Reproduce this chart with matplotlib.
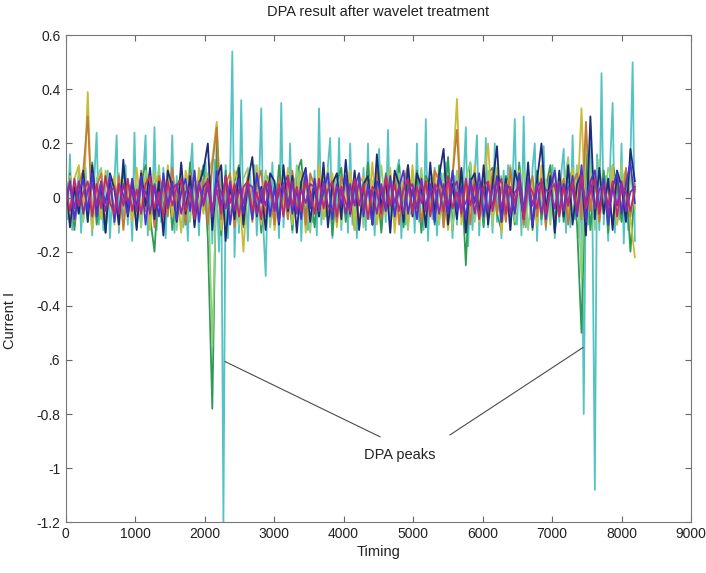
import numpy as np
import matplotlib
matplotlib.use("Agg")
import matplotlib.pyplot as plt

# ─────────────────────────────────────────────
# DATA: DPA traces after wavelet treatment
# ─────────────────────────────────────────────
TRACE_END = 8192
STEP_FINE = 32      # sampling of the cyan trace
STEP_BASE = 64      # sampling of the other traces

cyan_trace = [
    0.05, -0.08, 0.16, -0.12, 0.03, -0.06, 0.09, -0.13, 0.02, 0.11, -0.09, 0.05, -0.14, 0.08, 0.24, -0.1,
    0.04, -0.12, 0.07, 0.1, -0.15, 0.02, 0.06, 0.23, -0.13, 0.05, -0.07, 0.12, -0.1, 0.03, -0.16, 0.24,
    -0.08, 0.06, -0.11, 0.09, 0.23, -0.14, 0.04, -0.06, 0.26, -0.12, 0.07, -0.09, 0.11, -0.15, 0.05, -0.03,
    0.23, -0.13, 0.08, -0.07, 0.12, -0.11, 0.04, -0.16, 0.09, 0.2, -0.1, 0.06, -0.14, 0.1, -0.05, 0.13,
    -0.12, 0.08, -0.17, 0.14, 0.06, -0.2, 0.1, -1.2, 0.12, -0.15, 0.08, 0.54, -0.22, 0.07, -0.13, 0.36,
    -0.1, 0.05, -0.16, 0.09, -0.06, 0.12, -0.14, 0.04, 0.33, -0.12, -0.29, 0.08, -0.1, 0.13, -0.07, 0.05,
    -0.15, 0.35, -0.11, 0.06, -0.08, 0.2, -0.13, 0.07, -0.05, 0.11, -0.16, 0.04, 0.09, -0.12, 0.06, -0.09,
    0.1, -0.14, 0.33, -0.1, 0.05, -0.07, 0.12, 0.22, -0.15, 0.06, -0.09, 0.22, -0.12, 0.04, 0.08, -0.13,
    0.2, -0.1, 0.06, -0.15, 0.09, -0.06, 0.11, -0.12, 0.2, -0.08, 0.05, -0.14, 0.07, 0.18, -0.11, 0.04,
    -0.09, 0.25, -0.13, 0.06, -0.07, 0.1, 0.14, -0.15, 0.05, -0.1, 0.12, -0.06, 0.08, -0.13, 0.2, -0.09,
    0.06, -0.12, 0.29, -0.16, 0.07, -0.08, 0.11, -0.14, 0.04, 0.09, -0.11, 0.13, -0.07, 0.05, -0.15, 0.08,
    -0.1, 0.12, -0.06, 0.07, 0.26, -0.18, 0.05, -0.12, 0.09, 0.23, -0.14, 0.06, -0.08, 0.22, -0.11, 0.04,
    -0.13, 0.2, -0.09, 0.07, -0.15, 0.1, -0.06, 0.12, -0.12, 0.05, 0.29, -0.1, 0.08, -0.14, 0.3, -0.11,
    0.06, -0.08, 0.11, 0.2, -0.16, 0.05, -0.1, 0.19, -0.12, 0.07, -0.06, 0.12, -0.15, 0.04, -0.09, 0.1,
    0.18, -0.13, 0.06, -0.11, 0.23, -0.08, 0.1, -0.15, 0.07, -0.8, 0.12, -0.1, 0.2, -0.14, -1.08, 0.16,
    -0.12, 0.46, -0.1, 0.08, -0.16, 0.15, 0.35, -0.13, 0.1, -0.08, 0.2, -0.17, 0.09, -0.12, 0.14, 0.5,
    -0.16,
]

green_trace = [
    -0.06, 0.09, -0.12, 0.04, 0.1, -0.08, 0.13, -0.1, 0.02, -0.13, 0.08, 0.05, -0.09, 0.11, -0.04, 0.07,
    -0.11, 0.06, 0.12, -0.07, -0.2, 0.09, -0.05, 0.1, -0.12, 0.04, 0.08, -0.1, 0.13, -0.06, 0.03, 0.12,
    -0.15, -0.78, 0.22, -0.14, 0.1, -0.09, 0.06, 0.12, -0.11, 0.03, -0.07, 0.1, -0.13, 0.08, 0.05, -0.1,
    0.12, -0.06, 0.04, -0.12, 0.09, 0.14, -0.08, 0.03, -0.11, 0.07, -0.05, 0.1, -0.14, 0.06, 0.11, -0.09,
    0.05, -0.12, 0.08, -0.04, 0.13, -0.1, 0.06, -0.13, 0.09, 0.02, -0.08, 0.12, -0.11, 0.05, -0.06, 0.1,
    -0.13, 0.08, 0.04, -0.1, 0.12, -0.07, 0.15, -0.12, 0.06, 0.1, -0.25, 0.13, -0.08, 0.05, -0.11, 0.09,
    0.11, -0.06, -0.12, 0.08, 0.03, -0.1, 0.13, -0.05, 0.07, -0.12, 0.1, -0.08, 0.04, 0.12, -0.13, 0.06,
    -0.09, 0.11, 0.05, -0.1, -0.5, 0.17, -0.12, 0.08, -0.06, 0.1, -0.13, 0.12, 0.05, -0.09, 0.07, -0.2,
    0.04,
]

yellow_trace = [
    0.03, -0.1, 0.07, 0.12, -0.06, 0.39, -0.12, 0.05, -0.08, 0.1, -0.03, 0.08, -0.11, 0.06, 0.02, -0.09,
    0.11, -0.05, 0.07, -0.12, 0.09, 0.04, -0.1, 0.12, -0.07, 0.05, -0.13, 0.1, 0.03, -0.08, 0.11, -0.06,
    0.08, 0.14, 0.28, -0.12, 0.06, -0.09, 0.1, 0.04, -0.2, 0.09, -0.06, 0.12, -0.1, 0.05, 0.08, -0.12,
    0.06, -0.04, 0.11, -0.09, 0.03, 0.1, -0.13, 0.07, -0.05, 0.12, -0.08, 0.04, 0.09, -0.11, 0.06, -0.03,
    0.1, -0.12, 0.05, 0.08, -0.07, 0.13, -0.1, 0.04, -0.06, 0.11, -0.13, 0.07, 0.02, -0.09, 0.12, -0.05,
    0.08, -0.11, 0.05, 0.1, -0.08, 0.03, -0.12, 0.07, 0.365, -0.1, 0.06, -0.04, 0.12, -0.09, 0.05, 0.2,
    -0.07, 0.11, -0.13, 0.04, 0.08, -0.06, 0.1, -0.11, 0.06, 0.03, -0.1, 0.12, -0.07, 0.05, -0.12, 0.09,
    0.04, -0.08, 0.11, -0.05, 0.33, -0.12, 0.07, 0.1, -0.09, 0.05, -0.06, 0.12, -0.1, 0.06, 0.1, -0.08,
    -0.22,
]

orange_trace = [
    -0.04, 0.07, -0.09, 0.05, 0.1, 0.3, -0.07, 0.04, 0.09, -0.1, 0.06, -0.05, 0.08, -0.12, 0.05, 0.03,
    -0.08, 0.1, -0.05, 0.06, -0.11, 0.08, 0.02, -0.07, 0.11, -0.04, 0.06, -0.1, 0.09, 0.04, -0.06, 0.07,
    -0.1, 0.12, 0.26, -0.08, 0.05, 0.09, -0.11, 0.06, -0.03, 0.08, -0.09, 0.05, 0.1, -0.07, 0.04, -0.1,
    0.07, 0.03, -0.08, 0.1, -0.05, 0.06, -0.1, 0.09, 0.04, -0.07, 0.11, -0.06, 0.03, -0.09, 0.08, 0.05,
    -0.07, 0.09, -0.11, 0.04, 0.07, -0.05, 0.1, -0.08, 0.06, -0.04, 0.09, -0.1, 0.05, 0.12, -0.06, 0.03,
    -0.09, 0.07, -0.05, 0.1, 0.06, -0.11, 0.04, 0.08, 0.25, -0.07, 0.05, -0.1, 0.09, -0.04, 0.06, -0.08,
    0.1, -0.06, 0.04, -0.09, 0.11, -0.05, 0.07, -0.1, 0.03, 0.08, -0.07, 0.05, -0.11, 0.09, 0.04, -0.06,
    0.07, -0.1, 0.05, 0.09, -0.08, 0.28, -0.05, 0.1, -0.09, 0.06, 0.04, -0.1, 0.08, -0.05, 0.11, -0.07,
    0.05,
]

navy_trace = [
    0.08, -0.11, 0.04, -0.06, 0.1, -0.09, 0.12, -0.04, 0.06, -0.13, 0.09, 0.03, -0.1, 0.14, -0.07, 0.05,
    -0.12, 0.09, -0.03, 0.11, -0.08, 0.06, -0.14, 0.1, 0.04, -0.09, 0.13, -0.06, 0.08, -0.11, 0.05, 0.1,
    0.2, -0.12, 0.07, 0.12, -0.16, 0.05, -0.08, 0.11, -0.1, 0.06, 0.15, -0.07, 0.04, -0.12, 0.09, 0.06,
    -0.1, 0.12, -0.05, 0.08, -0.13, 0.06, 0.11, -0.09, 0.04, -0.07, 0.13, -0.11, 0.05, 0.09, -0.08, 0.14,
    -0.06, 0.1, -0.12, 0.05, 0.08, -0.1, 0.16, -0.04, 0.07, -0.13, 0.1, 0.05, -0.09, 0.12, -0.07, 0.09,
    0.04, -0.11, 0.13, -0.06, 0.08, 0.18, -0.1, 0.05, -0.08, 0.11, -0.13, 0.06, 0.09, -0.07, 0.12, -0.1,
    0.05, 0.19, -0.09, 0.07, -0.12, 0.1, 0.04, -0.08, 0.13, -0.11, 0.06, 0.2, -0.05, 0.08, -0.13, 0.1,
    -0.07, 0.12, -0.1, 0.05, 0.09, -0.14, 0.3, -0.08, 0.11, -0.06, 0.07, -0.12, 0.1, 0.04, -0.09, 0.18,
    0.06,
]

lightgreen_trace = [
    0.02, 0.08, -0.06, 0.1, -0.09, 0.04, -0.12, 0.07, 0.11, -0.05, 0.03, -0.1, 0.09, -0.04, 0.06, -0.08,
    0.05, -0.11, 0.1, 0.03, -0.07, 0.12, -0.09, 0.04, 0.06, -0.12, 0.08, -0.03, -0.09, 0.1, -0.06, 0.05,
    0.09, -0.55, 0.1, 0.05, -0.12, 0.08, -0.04, -0.1, 0.07, 0.11, -0.08, 0.03, -0.06, 0.1, -0.11, 0.04,
    -0.07, 0.09, 0.04, -0.1, 0.12, -0.05, 0.07, -0.13, 0.06, 0.02, -0.08, 0.11, -0.04, 0.08, -0.1, 0.05,
    0.1, -0.07, 0.04, -0.11, 0.08, 0.06, -0.09, 0.12, -0.05, 0.03, -0.1, 0.09, 0.05, -0.12, 0.07, -0.04,
    0.11, -0.08, 0.06, -0.03, -0.1, 0.09, 0.04, -0.12, 0.1, -0.06, 0.07, 0.13, -0.09, 0.04, -0.07, 0.1,
    -0.11, 0.06, 0.08, -0.05, 0.12, -0.09, 0.03, 0.1, -0.12, 0.05, -0.04, 0.09, 0.06, -0.1, 0.11, -0.07,
    0.04, 0.15, -0.08, 0.12, -0.3, 0.2, 0.1, -0.12, 0.14, -0.06, 0.11, 0.07, -0.1, 0.13, -0.05, 0.09,
    -0.04,
]

blue_trace = [
    -0.03, 0.06, -0.08, 0.02, 0.07, -0.05, 0.09, -0.07, 0.04, -0.02, 0.08, -0.09, 0.05, 0.01, -0.06, 0.07,
    -0.04, 0.08, -0.1, 0.05, 0.03, -0.07, 0.09, -0.03, 0.06, -0.08, 0.02, 0.07, -0.05, 0.1, -0.09, 0.04,
    0.06, -0.07, 0.1, -0.04, 0.08, -0.1, 0.03, 0.07, -0.06, 0.05, -0.08, 0.09, -0.02, 0.06, -0.07, 0.04,
    -0.09, 0.05, 0.08, -0.06, 0.03, -0.08, 0.1, -0.04, 0.07, -0.05, 0.02, 0.09, -0.08, 0.05, -0.03, 0.08,
    -0.06, 0.04, 0.09, -0.07, 0.05, -0.1, 0.06, 0.02, -0.05, 0.08, -0.07, 0.04, 0.1, -0.06, 0.03, -0.08,
    0.07, -0.04, 0.05, -0.09, 0.08, 0.02, -0.06, 0.1, -0.05, 0.04, -0.08, 0.07, -0.02, 0.09, -0.07, 0.05,
    -0.04, 0.08, -0.09, 0.05, 0.03, -0.06, 0.09, -0.05, 0.07, -0.1, 0.04, 0.06, -0.08, 0.03, 0.1, -0.06,
    0.05, -0.03, 0.08, -0.07, 0.12, -0.09, 0.06, 0.1, -0.05, 0.07, -0.1, 0.04, 0.09, -0.06, 0.05, 0.13,
    -0.02,
]

magenta_trace = [
    0.04, -0.05, 0.07, -0.03, 0.02, 0.06, -0.07, 0.05, -0.04, 0.08, -0.02, -0.06, 0.05, -0.03, 0.07, -0.05,
    0.03, -0.06, 0.05, 0.08, -0.04, 0.02, -0.07, 0.06, -0.03, 0.04, 0.07, -0.05, 0.02, -0.08, 0.05, -0.02,
    0.07, -0.04, 0.03, -0.06, 0.08, -0.02, 0.05, -0.07, 0.04, 0.06, -0.05, 0.02, -0.08, 0.06, 0.03, -0.04,
    0.05, -0.07, 0.08, -0.03, 0.04, -0.05, 0.06, 0.02, -0.06, 0.07, -0.04, 0.03, 0.06, -0.07, 0.04, -0.02,
    -0.05, 0.07, -0.03, 0.05, -0.08, 0.04, 0.02, -0.06, 0.08, -0.03, 0.05, -0.05, 0.03, 0.07, -0.06, 0.04,
    -0.02, 0.06, -0.07, 0.05, 0.03, -0.05, 0.08, -0.04, 0.02, -0.06, 0.07, -0.03, 0.05, -0.08, 0.04, 0.06,
    -0.05, 0.03, 0.07, -0.06, 0.04, -0.02, 0.06, -0.08, 0.05, 0.02, -0.04, 0.07, -0.06, 0.03, 0.05, -0.07,
    0.04, -0.03, 0.06, -0.05, 0.08, -0.04, 0.02, 0.07, -0.06, 0.05, -0.03, 0.06, -0.07, 0.04, 0.02, -0.05,
    0.03,
]

purple_trace = [
    -0.02, 0.05, -0.04, 0.06, -0.06, 0.03, 0.05, -0.03, 0.06, -0.05, 0.02, 0.04, -0.06, 0.05, -0.02, 0.03,
    -0.05, 0.04, 0.02, -0.06, 0.05, -0.03, 0.06, -0.04, 0.03, 0.05, -0.06, 0.02, 0.04, -0.05, 0.06, -0.03,
    0.04, -0.06, 0.05, 0.02, -0.04, 0.06, -0.05, 0.03, -0.02, 0.05, 0.04, -0.06, 0.03, -0.03, 0.06, -0.05,
    0.02, 0.05, -0.04, 0.06, -0.06, 0.03, -0.02, 0.05, 0.04, -0.05, 0.06, -0.03, -0.05, 0.04, 0.02, -0.06,
    0.05, -0.03, 0.06, -0.05, 0.03, 0.02, -0.06, 0.05, -0.04, 0.06, -0.02, 0.04, -0.06, 0.03, 0.05, -0.04,
    0.06, -0.05, 0.02, 0.04, -0.06, 0.05, -0.03, 0.03, 0.06, -0.04, -0.02, 0.05, -0.06, 0.04, 0.02, -0.05,
    0.03, 0.06, -0.04, 0.05, -0.06, 0.02, 0.04, -0.05, 0.06, -0.03, 0.05, -0.06, 0.03, 0.02, -0.04, 0.06,
    -0.05, 0.04, 0.03, -0.06, 0.05, -0.02, 0.06, -0.04, 0.03, 0.05, -0.06, 0.04, -0.03, 0.06, -0.05, 0.02,
    0.04,
]

x_ticks = [0, 1000, 2000, 3000, 4000, 5000, 6000, 7000, 8000, 9000]
y_ticks = [-1.2, -1.0, -0.8, -0.6, -0.4, -0.2, 0.0, 0.2, 0.4, 0.6]
y_tick_labels = ["-1.2", "-1", "-0.8", ".6", "-0.4", "-0.2", "0", "0.2", "0.4", "0.6"]

# annotation: label position and the two peaks it points at (timing, current)
label_pos = (4813, -0.951)
left_peak = (2295, -0.606)
left_end = (4525, -0.884)
right_peak = (7446, -0.554)
right_end = (5532, -0.877)

# ─────────────────────────────────────────────
# PLOT
# ─────────────────────────────────────────────
plt.rcParams['font.family'] = ['Liberation Sans', 'DejaVu Sans']

fig = plt.figure(figsize=(7.06, 5.73), dpi=100)
ax = fig.add_axes([0.0928, 0.0885, 0.886, 0.850])

t_fine = np.arange(0, TRACE_END + 1, STEP_FINE)
t_base = np.arange(0, TRACE_END + 1, STEP_BASE)

lw = 1.3
ax.plot(t_fine, cyan_trace, color='#55c3c3', linewidth=lw)
ax.plot(t_base, green_trace, color='#2f9a52', linewidth=lw)
ax.plot(t_base, lightgreen_trace, color='#8fcf80', linewidth=lw)
ax.plot(t_base, yellow_trace, color='#c9bb35', linewidth=lw)
ax.plot(t_base, orange_trace, color='#c27a3a', linewidth=lw)
ax.plot(t_base, navy_trace, color='#1c2b7a', linewidth=lw)
ax.plot(t_base, blue_trace, color='#4b33d2', linewidth=lw)
ax.plot(t_base, magenta_trace, color='#c22a6e', linewidth=lw)
ax.plot(t_base, purple_trace, color='#8b2da8', linewidth=lw)

# DPA peaks annotation
line_col = '#4a4a4a'
ax.plot([left_peak[0], left_end[0]], [left_peak[1], left_end[1]], color=line_col, linewidth=0.8)
ax.plot([right_peak[0], right_end[0]], [right_peak[1], right_end[1]], color=line_col, linewidth=0.8)
ax.text(label_pos[0], label_pos[1], 'DPA peaks', ha='center', va='center', fontsize=10.5, color='#222222')

ax.set_xlim(0, 9000)
ax.set_ylim(-1.2, 0.6)
ax.set_xticks(x_ticks)
ax.set_yticks(y_ticks)
ax.set_yticklabels(y_tick_labels)
ax.tick_params(direction='in', top=True, right=True, length=4, labelsize=10,
               color='#666666', labelcolor='#222222')
for sp in ax.spines.values():
    sp.set_color('#777777')
    sp.set_linewidth(0.8)

ax.set_title('DPA result after wavelet treatment', fontsize=10.5, color='#222222', pad=14)
ax.set_xlabel('Timing', fontsize=10.5, color='#222222', labelpad=3)
ax.set_ylabel('Current I', fontsize=10.5, color='#222222')
ax.yaxis.set_label_coords(-0.078, 0.415)

fig.savefig('out.png', dpi=100)
